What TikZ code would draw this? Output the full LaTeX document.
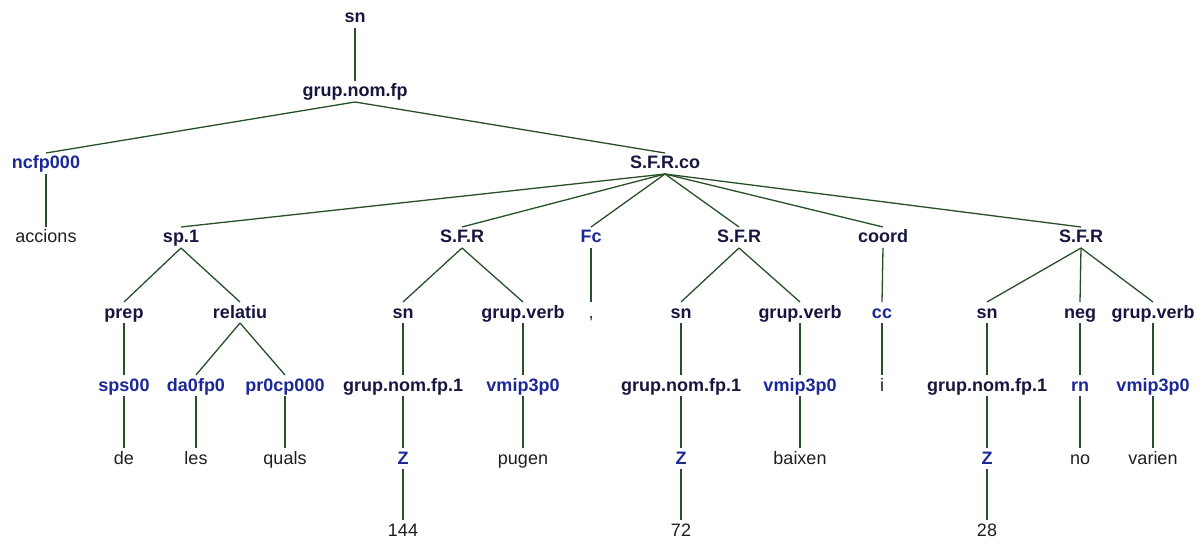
\documentclass[tikz,border=0pt]{standalone}
\usepackage{fontspec}
\setmainfont{Liberation Sans}
\definecolor{ntcol}{RGB}{22,22,62}
\definecolor{poscol}{RGB}{28,40,150}
\definecolor{wdcol}{RGB}{30,30,30}
\definecolor{lncol}{RGB}{40,80,40}
\tikzset{
  lbl/.style={anchor=base, inner sep=0pt},
  ntlab/.style={lbl, text=ntcol, font=\fontsize{18}{20}\selectfont\bfseries},
  poslab/.style={lbl, text=poscol, font=\fontsize{18}{20}\selectfont\bfseries},
  wdlab/.style={lbl, text=wdcol, font=\fontsize{18}{20}\selectfont},
  edgeline/.style={draw=lncol, line width=1.3pt}
}
\newcommand\tedge[2]{\draw[edgeline] ([yshift=-5pt]#1.base) -- ([yshift=16pt]#2.base);}
\begin{document}
\begin{tikzpicture}[x=1pt,y=-1pt]
\useasboundingbox (0,0) rectangle (1200,540);
% level 0-2
\node[ntlab] (root) at (355,23) {sn};
\node[ntlab] (gnf) at (355,97) {grup.nom.fp};
\node[poslab] (ncf) at (46,169) {ncfp000};
\node[wdlab] (acc) at (46,243) {accions};
\node[ntlab] (sfrco) at (665,169) {S.F.R.co};
% level 3
\node[ntlab] (sp1) at (181,243) {sp.1};
\node[ntlab] (sfra) at (462,243) {S.F.R};
\node[poslab] (fc) at (591,243) {Fc};
\node[ntlab] (sfrb) at (739,243) {S.F.R};
\node[ntlab] (coord) at (883,243) {coord};
\node[ntlab] (sfrc) at (1081,243) {S.F.R};
% level 4
\node[ntlab] (prep) at (124,318) {prep};
\node[ntlab] (relatiu) at (240,318) {relatiu};
\node[ntlab] (sna) at (403,318) {sn};
\node[ntlab] (gva) at (523,318) {grup.verb};
\node[wdlab] (comma) at (591,318) {,};
\node[ntlab] (snb) at (681,318) {sn};
\node[ntlab] (gvb) at (800,318) {grup.verb};
\node[poslab] (cc) at (882,318) {cc};
\node[ntlab] (snc) at (987,318) {sn};
\node[ntlab] (neg) at (1080,318) {neg};
\node[ntlab] (gvc) at (1153,318) {grup.verb};
% level 5
\node[poslab] (sps) at (124,391) {sps00};
\node[poslab] (da) at (196,391) {da0fp0};
\node[poslab] (pr) at (285,391) {pr0cp000};
\node[ntlab] (gnfa) at (403,391) {grup.nom.fp.1};
\node[poslab] (vma) at (523,391) {vmip3p0};
\node[ntlab] (gnfb) at (681,391) {grup.nom.fp.1};
\node[poslab] (vmb) at (800,391) {vmip3p0};
\node[wdlab] (wi) at (882,391) {i};
\node[ntlab] (gnfc) at (987,391) {grup.nom.fp.1};
\node[poslab] (rn) at (1080,391) {rn};
\node[poslab] (vmc) at (1153,391) {vmip3p0};
% level 6
\node[wdlab] (de) at (124,464) {de};
\node[wdlab] (les) at (196,464) {les};
\node[wdlab] (quals) at (285,464) {quals};
\node[poslab] (za) at (403,464) {Z};
\node[wdlab] (pugen) at (523,464) {pugen};
\node[poslab] (zb) at (681,464) {Z};
\node[wdlab] (baixen) at (800,464) {baixen};
\node[poslab] (zc) at (987,464) {Z};
\node[wdlab] (no) at (1080,464) {no};
\node[wdlab] (varien) at (1153,464) {varien};
% level 7
\node[wdlab] (na) at (403,536) {144};
\node[wdlab] (nb) at (681,536) {72};
\node[wdlab] (nc) at (987,536) {28};
% edges
\tedge{root}{gnf}
\tedge{gnf}{ncf}
\tedge{gnf}{sfrco}
\tedge{ncf}{acc}
\tedge{sfrco}{sp1}
\tedge{sfrco}{sfra}
\tedge{sfrco}{fc}
\tedge{sfrco}{sfrb}
\tedge{sfrco}{coord}
\tedge{sfrco}{sfrc}
\tedge{sp1}{prep}
\tedge{sp1}{relatiu}
\tedge{prep}{sps}
\tedge{relatiu}{da}
\tedge{relatiu}{pr}
\tedge{sps}{de}
\tedge{da}{les}
\tedge{pr}{quals}
\tedge{sfra}{sna}
\tedge{sfra}{gva}
\tedge{sna}{gnfa}
\tedge{gva}{vma}
\tedge{gnfa}{za}
\tedge{vma}{pugen}
\tedge{za}{na}
\tedge{fc}{comma}
\tedge{sfrb}{snb}
\tedge{sfrb}{gvb}
\tedge{snb}{gnfb}
\tedge{gvb}{vmb}
\tedge{gnfb}{zb}
\tedge{vmb}{baixen}
\tedge{zb}{nb}
\tedge{coord}{cc}
\tedge{cc}{wi}
\tedge{sfrc}{snc}
\tedge{sfrc}{neg}
\tedge{sfrc}{gvc}
\tedge{snc}{gnfc}
\tedge{neg}{rn}
\tedge{gvc}{vmc}
\tedge{gnfc}{zc}
\tedge{rn}{no}
\tedge{vmc}{varien}
\tedge{zc}{nc}
\end{tikzpicture}
\end{document}
